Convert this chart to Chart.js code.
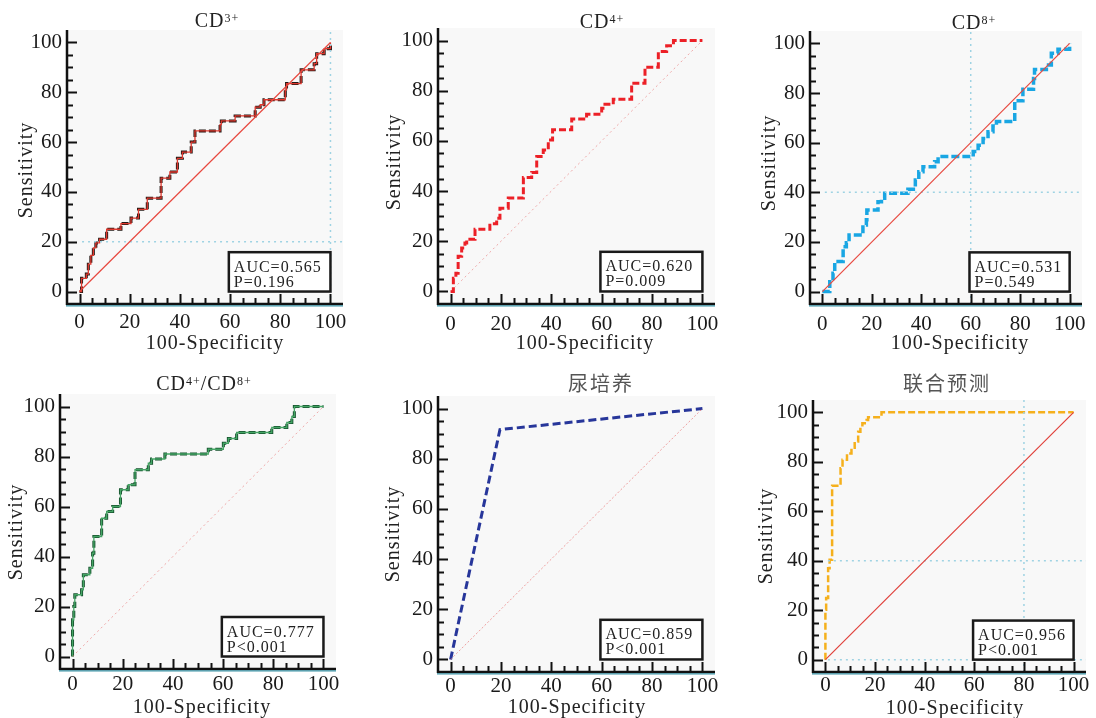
<!DOCTYPE html>
<html><head><meta charset="utf-8">
<script src="https://cdn.jsdelivr.net/npm/chart.js@4"></script>
<style>body{margin:0;background:#fff;width:1096px;height:718px;overflow:hidden}canvas{position:absolute;left:0;top:0}</style>
</head><body>
<canvas id="c0" width="1096" height="718"></canvas>
<canvas id="c1" width="1096" height="718"></canvas>
<canvas id="c2" width="1096" height="718"></canvas>
<canvas id="c3" width="1096" height="718"></canvas>
<canvas id="c4" width="1096" height="718"></canvas>
<canvas id="c5" width="1096" height="718"></canvas>
<script>
// ---- tick labels ----
const TICKS = [0, 20, 40, 60, 80, 100];
const MINOR_TICKS = [5, 10, 15, 25, 30, 35, 45, 50, 55, 65, 70, 75, 85, 90, 95];
const X_TITLE = '100-Specificity';
const Y_TITLE = 'Sensitivity';
const DIAG_X = [0, 100];
const DIAG_Y = [0, 100];

// ---- series (100-Specificity, Sensitivity) ----
const cd3X = [0,0.8,2.7,3.5,4.5,5.5,6.5,8,10.8,16.5,20.5,23.5,27,32.5,36,39,41,44.5,46,56,56.5,62,70,72,73.5,82,82.5,88.3,93.5,94.5,97.5,100];
const cd3Y = [0,5.3,7,11,14.5,17.5,19.5,21,25,27.3,29.5,33,37.5,45.5,48,53.5,56,60,64.5,67,68.5,70.5,74,75,77,81,83.5,89,91.5,95.5,97.5,100];

const cd4X = [0,1.1,2.1,3,4.4,5.7,6.4,9.7,15.6,18.3,19.6,22.9,28.9,32.2,34.2,36.8,38.8,40.5,48.1,54,60,61.3,64.6,71.9,77.2,82.5,85.8,88.5,100];
const cd4Y = [0,5.3,7.3,14,17.3,19.3,20.8,24.8,27,29.2,33.2,37.2,45.4,47.4,53.8,56.4,60.4,64.4,68.7,70.6,73,74.6,76.6,83,89.4,95.6,97.9,100,100];

const cd8X = [0,3,4.3,5,8.4,9.7,10.8,16.4,17.8,18,22.5,23.9,25.2,34.6,37.6,39,40.7,45.4,46.8,61,63,65,67,69,70.4,77.8,81.1,85.4,85.8,90.6,92.6,95.3,100];
const cd8Y = [0,4,7.4,12.1,18.1,19.7,22.8,26.8,28.9,32.9,36.2,37.6,39.6,41.2,45,48.3,50.3,52.3,54.4,56.4,59,61.7,64.4,66.7,68.5,76.9,81.5,85.9,89.5,91.3,96,97.6,100];

const ratioX = [0,0,0.5,0.9,3.6,4.3,6.9,8,8.5,11.6,13.6,16,19.1,22.2,24.9,30.2,31.5,36.8,54.1,60.1,62.1,65.4,79.4,85.4,87.4,88.4,100];
const ratioY = [0,14.7,20,24.7,26.7,32.7,35.3,41.3,48,55.3,58,60,66.7,68.7,74.7,77.3,79,81,82.9,85.3,87.2,89.6,91.6,93.6,96,100,100];

const urineX = [0,19.6,100];
const urineY = [0,91.6,100];

const comboX = [0,0,0.3,1.1,1.7,2.7,6.1,6.9,8.7,10.5,11.8,13.2,14.1,14.9,16.6,17.2,22.6,100];
const comboY = [0,20.2,24.9,37,40.4,70.3,77.4,80.8,83.4,85.7,88.2,92.2,94.2,95.6,96.9,98,100,100];

// cut-off guide lines
const cd3RefV = [100], cd3RefH = [20];
const cd8RefV = [60], cd8RefH = [40];
const comboRefV = [80], comboRefH = [40, 0];

const AUC_TEXT = ['AUC=0.565','AUC=0.620','AUC=0.531','AUC=0.777','AUC=0.859','AUC=0.956'];
const P_TEXT = ['P=0.196','P=0.009','P=0.549','P<0.001','P<0.001','P<0.001'];
const TITLES = [
  [['CD'],['3+',1]],
  [['CD'],['4+',1]],
  [['CD'],['8+',1]],
  [['CD'],['4+',1],['/CD'],['8+',1]],
  [['尿培养',2]],
  [['联合预测',2]]
];

const pts = (xs, ys) => xs.map((v, i) => ({x: v, y: ys[i]}));

const panels = [
  {area:[67,343,30,304], xpad:6.5, t:[217,27], xt:[215,343.5], yt:[26.5,170],
   X:cd3X, Y:cd3Y, color:'#231815', under:'#e0392f', dash:[7,3], w:3, stepped:'before',
   diag:{c:'#e8483f', d:[], w:1.2}, refV:cd3RefV, refH:cd3RefH},
  {area:[438,715,28,304], xpad:8, t:[602,28], xt:[585,344], yt:[394.5,162],
   X:cd4X, Y:cd4Y, color:'#ec2027', under:null, dash:[7,3], w:3, stepped:'before',
   diag:{c:'rgba(230,100,100,0.55)', d:[2,3], w:1}, refV:[], refH:[]},
  {area:[810,1082,31,304], xpad:8, t:[974,29], xt:[960,344], yt:[770,163],
   X:cd8X, Y:cd8Y, color:'#19a6e3', under:null, dash:[8,3], w:3.5, stepped:'before',
   diag:{c:'#e8483f', d:[], w:1.2}, refV:cd8RefV, refH:cd8RefH},
  {area:[60,336,394,669], xpad:3, t:[204,390], xt:[202,708], yt:[17,532],
   X:ratioX, Y:ratioY, color:'#14502c', under:'#45a565', dash:[7,3], w:3, stepped:'before',
   diag:{c:'rgba(230,100,100,0.55)', d:[2,3], w:1}, refV:[], refH:[]},
  {area:[438,715,396,672], xpad:2.7, t:[601,383], xt:[577,708], yt:[394,534],
   X:urineX, Y:urineY, color:'#27369a', under:null, dash:[8,4], w:3, stepped:false,
   diag:{c:'rgba(230,100,100,0.6)', d:[2,2], w:1}, refV:[], refH:[]},
  {area:[813,1086,400,672], xpad:1.8, t:[947,383], xt:[955,709], yt:[767,536],
   X:comboX, Y:comboY, color:'#f5b01c', under:null, dash:[7,3], w:2.5, stepped:'before',
   diag:{c:'#e0403a', d:[], w:1.2}, refV:comboRefV, refH:comboRefH}
];

const SERIF = '"Liberation Serif", "Times New Roman", serif';
const CJK = '"Noto Sans CJK SC", sans-serif';

const deco = {
  id: 'deco',
  beforeDraw(chart) {
    const {ctx, chartArea: a} = chart;
    ctx.save();
    ctx.fillStyle = '#f8f8f8';
    ctx.fillRect(a.left, a.top, a.right - a.left, a.bottom - a.top);
    ctx.restore();
  },
  afterDraw(chart, args, o) {
    const {ctx, chartArea: a, scales: {x, y}} = chart;
    const i = o.index, p = panels[i];
    ctx.save();
    // axis lines
    ctx.lineCap = 'butt';
    ctx.strokeStyle = '#111'; ctx.lineWidth = 2.5;
    ctx.beginPath(); ctx.moveTo(a.left, a.top); ctx.lineTo(a.left, a.bottom + 1); ctx.stroke();
    ctx.beginPath(); ctx.moveTo(a.left - 1, a.bottom); ctx.lineTo(a.right, a.bottom); ctx.stroke();
    ctx.strokeStyle = '#3a93a6'; ctx.lineWidth = 1.2;
    ctx.beginPath(); ctx.moveTo(a.left - 1, a.bottom + 1.8); ctx.lineTo(a.right, a.bottom + 1.8); ctx.stroke();
    // inward ticks
    ctx.strokeStyle = '#111'; ctx.lineWidth = 2;
    const tick = (v, len) => {
      const px = Math.round(x.getPixelForValue(v)) + 0.5;
      const py = Math.round(y.getPixelForValue(v)) + 0.5;
      ctx.beginPath(); ctx.moveTo(px, a.bottom); ctx.lineTo(px, a.bottom - len); ctx.stroke();
      ctx.beginPath(); ctx.moveTo(a.left, py); ctx.lineTo(a.left + len, py); ctx.stroke();
    };
    TICKS.forEach(v => tick(v, 10));
    MINOR_TICKS.forEach(v => tick(v, 6));
    // AUC box
    const bx0 = x.getPixelForValue(59.5), bx1 = x.getPixelForValue(100);
    const by0 = y.getPixelForValue(15.8), by1 = y.getPixelForValue(0);
    ctx.fillStyle = '#fff';
    ctx.fillRect(bx0, by0, bx1 - bx0, by1 - by0);
    ctx.strokeStyle = '#1a1a1a'; ctx.lineWidth = 2.5;
    ctx.strokeRect(bx0, by0, bx1 - bx0, by1 - by0);
    ctx.fillStyle = '#222';
    ctx.font = '16px ' + SERIF;
    ctx.letterSpacing = '1px';
    ctx.textAlign = 'left'; ctx.textBaseline = 'alphabetic';
    ctx.fillText(AUC_TEXT[i], bx0 + 5, by0 + 19.5);
    ctx.fillText(P_TEXT[i], bx0 + 5, by0 + 34.5);
    // axis titles
    ctx.font = '20px ' + SERIF;
    ctx.fillStyle = '#222';
    ctx.textAlign = 'center'; ctx.textBaseline = 'middle';
    ctx.fillText(X_TITLE, p.xt[0], p.xt[1]);
    ctx.save();
    ctx.translate(p.yt[0], p.yt[1]); ctx.rotate(-Math.PI / 2);
    ctx.fillText(Y_TITLE, 0, 0);
    ctx.restore();
    // panel title with superscripts
    const parts = TITLES[i];
    const fontFor = k => k === 1 ? '12px ' + SERIF : (k === 2 ? '20px ' + CJK : '20px ' + SERIF);
    let total = 0;
    parts.forEach(([t, k]) => {
      ctx.font = fontFor(k); ctx.letterSpacing = k === 2 ? '2px' : '1px';
      total += ctx.measureText(t).width;
    });
    let cx = p.t[0] - total / 2;
    ctx.textAlign = 'left';
    parts.forEach(([t, k]) => {
      ctx.font = fontFor(k); ctx.letterSpacing = k === 2 ? '2px' : '1px';
      if (k === 2) { ctx.fillStyle = '#555'; ctx.textBaseline = 'middle'; ctx.fillText(t, cx, p.t[1]); }
      else { ctx.fillStyle = '#222'; ctx.textBaseline = 'alphabetic'; ctx.fillText(t, cx, p.t[1] - (k === 1 ? 5.5 : 0)); }
      cx += ctx.measureText(t).width;
    });
    ctx.restore();
  }
};

panels.forEach((p, i) => {
  const [L, R, T, B] = p.area;
  const datasets = [];
  datasets.push({data: pts(DIAG_X, DIAG_Y), borderColor: p.diag.c, borderWidth: p.diag.w, borderDash: p.diag.d});
  p.refV.forEach(v => datasets.push({data: [{x: v, y: -5}, {x: v, y: 105}], borderColor: '#9fd3e3', borderWidth: 1.5, borderDash: [2, 4]}));
  p.refH.forEach(v => datasets.push({data: [{x: 1, y: v}, {x: 105, y: v}], borderColor: '#9fd3e3', borderWidth: 1.5, borderDash: [2, 4]}));
  if (p.under) datasets.push({data: pts(p.X, p.Y), borderColor: p.under, borderWidth: 1.3, stepped: p.stepped});
  datasets.push({data: pts(p.X, p.Y), borderColor: p.color, borderWidth: p.w, borderDash: p.dash, stepped: p.stepped});
  datasets.forEach(d => { d.showLine = true; d.pointRadius = 0; d.fill = false; d.tension = 0; });

  const scaleCommon = {
    type: 'linear', min: -5, max: 105,
    afterBuildTicks: s => { s.ticks = TICKS.map(v => ({value: v})); },
    grid: {display: false, drawTicks: false},
    border: {display: false},
  };
  new Chart(document.getElementById('c' + i), {
    type: 'scatter',
    data: {datasets},
    options: {
      responsive: false, animation: false, events: [],
      layout: {padding: {left: 0, right: 1096 - R, top: T, bottom: 0}},
      plugins: {legend: {display: false}, tooltip: {enabled: false}, title: {display: false}, deco: {index: i}},
      scales: {
        x: Object.assign({}, scaleCommon, {
          position: 'bottom',
          afterFit: s => { s.height = 718 - B; s.paddingLeft = 0; s.paddingRight = 0; },
          ticks: {padding: p.xpad - 0.5, autoSkip: false, maxRotation: 0, color: '#1a1a1a', font: {family: SERIF, size: 21}}
        }),
        y: Object.assign({}, scaleCommon, {
          position: 'left',
          afterFit: s => { s.width = L; s.paddingTop = 0; s.paddingBottom = 0; },
          ticks: {padding: 5, autoSkip: false, color: '#1a1a1a', font: {family: SERIF, size: 21}}
        })
      }
    },
    plugins: [deco]
  });
});
</script>
</body></html>
